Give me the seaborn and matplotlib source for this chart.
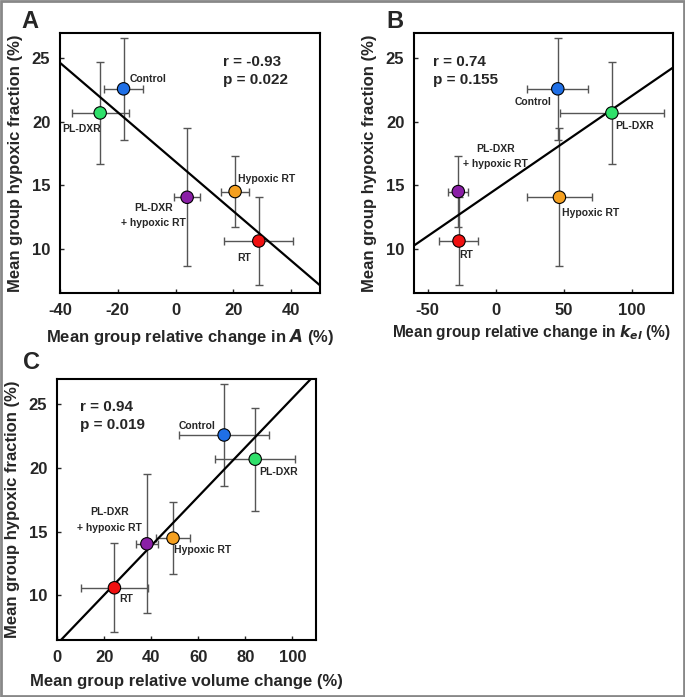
import matplotlib
matplotlib.use("Agg")
import matplotlib.pyplot as plt
import seaborn as sns
import numpy as np
import pandas as pd

sns.set_theme(style="white")
plt.rcParams["font.family"] = ["Liberation Sans", "DejaVu Sans"]
plt.rcParams["font.weight"] = "bold"
plt.rcParams["axes.unicode_minus"] = False

groups = ["Control", "PL-DXR", "PL-DXR\n+ hypoxic RT", "Hypoxic RT", "RT"]
colors = ["#1f6fe6", "#2fe06a", "#8a1fa6", "#f5a020", "#f01010"]

# mean group hypoxic fraction (%) as plotted in each panel
a_y = [22.6, 20.7, 14.05, 14.5, 10.6]
a_yerr = [4.0, 4.05, 5.45, 2.8, 3.5]
b_y = [22.6, 20.7, 14.5, 14.05, 10.6]
b_yerr = [4.0, 4.05, 2.8, 5.45, 3.5]
c_y = [22.6, 20.7, 14.05, 14.5, 10.6]
c_yerr = [4.0, 4.05, 5.45, 2.8, 3.5]

# panel A: relative change in A (%)
a_x = [-18.0, -26.1, 4.0, 20.6, 28.8]
a_xerr = [6.8, 9.9, 4.6, 4.8, 12.0]
# panel B: relative change in kel (%)
b_x = [45.5, 85.2, -27.5, 46.7, -27.0]
b_xerr = [22.5, 38.0, 7.2, 24.0, 14.3]
# panel C: relative volume change (%)
c_x = [71.0, 84.2, 38.2, 49.3, 24.4]
c_xerr = [19.0, 17.0, 4.7, 7.2, 14.4]

stats = {"A": ("r = -0.93", "p = 0.022"), "B": ("r = 0.74", "p = 0.155"),
         "C": ("r = 0.94", "p = 0.019")}

# label positions (data coords)
a_lab = [(-15.9, 23.4, "left"), (-32.7, 19.4, "center"), (-7.5, 12.6, "center"),
         (31.5, 15.5, "center"), (23.8, 9.3, "center")]
b_lab = [(27.7, 21.55, "center"), (102, 19.65, "center"), (-0.5, 17.25, "center"),
         (69.3, 12.8, "center"), (-21.4, 9.5, "center")]
c_lab = [(59.3, 23.3, "center"), (94.1, 19.7, "center"), (22.3, 15.9, "center"),
         (62.0, 13.55, "center"), (29.3, 9.75, "center")]


def panel(ax, x, xerr, y, yerr, lab, xlim, xticks, xlabel, letter, stat_pos,
          xlab_size=12):
    df = pd.DataFrame({"x": x, "y": y, "group": groups})
    ax.errorbar(x, y, xerr=xerr, yerr=yerr, fmt="none", ecolor="#555555",
                elinewidth=1.0, capsize=3, capthick=1.0, zorder=2)
    # regression line through the group means
    k, b = np.polyfit(x, y, 1)
    xs = np.array(xlim)
    sns.lineplot(x=xs, y=k * xs + b, ax=ax, color="black", lw=1.6, zorder=3)
    sns.scatterplot(data=df, x="x", y="y", hue="group", palette=colors, s=80,
                    edgecolor="black", linewidth=0.8, legend=False, ax=ax, zorder=4)
    for (tx, ty, ha), g in zip(lab, groups):
        ax.text(tx, ty, g, ha=ha, va="center", fontsize=7.5, fontweight="bold",
                linespacing=1.7, zorder=5)
    ax.set_xlim(xlim)
    ax.set_ylim(6.5, 27)
    ax.set_xticks(xticks, labels=[str(t) for t in xticks], fontsize=12, fontweight="bold")
    ax.set_yticks([10, 15, 20, 25], labels=["10", "15", "20", "25"], fontsize=12,
                  fontweight="bold")
    ax.tick_params(direction="in", length=3, width=1, pad=7, bottom=True, left=True)
    for s in ax.spines.values():
        s.set_color("black")
        s.set_linewidth(1.5)
    ax.set_xlabel(xlabel, fontsize=xlab_size, fontweight="bold", labelpad=7)
    ax.set_ylabel("Mean group hypoxic fraction (%)", fontsize=12,
                  fontweight="bold", labelpad=6)
    ax.text(stat_pos[0], stat_pos[1], "\n".join(stats[letter]), transform=ax.transAxes,
            ha="left", va="top", fontsize=11, fontweight="bold", linespacing=1.35)


fig = plt.figure(figsize=(6.85, 6.97), dpi=100)
axA = fig.add_axes([0.0876, 0.5796, 0.3796, 0.373])
axB = fig.add_axes([0.6044, 0.5796, 0.378, 0.373])
axC = fig.add_axes([0.0832, 0.0818, 0.378, 0.3745])

panel(axA, a_x, a_xerr, a_y, a_yerr, a_lab, (-40, 50), [-40, -20, 0, 20, 40],
      "Mean group relative change in $\\mathbfit{A}$ (%)", "A", (0.627, 0.915))
panel(axB, b_x, b_xerr, b_y, b_yerr, b_lab, (-60, 130), [-50, 0, 50, 100],
      "Mean group relative change in $\\mathbfit{k_{el}}$ (%)", "B", (0.074, 0.915),
      xlab_size=11.2)
axB.xaxis.set_label_coords(0.455, -0.115)
panel(axC, c_x, c_xerr, c_y, c_yerr, c_lab, (0, 110), [0, 20, 40, 60, 80, 100],
      "Mean group relative volume change (%)", "C", (0.09, 0.92))

fig.text(30 / 685, 1 - 22 / 697, "A", ha="center", va="center", fontsize=17, fontweight="bold")
fig.text(395 / 685, 1 - 22 / 697, "B", ha="center", va="center", fontsize=17, fontweight="bold")
fig.text(32 / 685, 1 - 363 / 697, "C", ha="center", va="center", fontsize=17, fontweight="bold")

fig.patches.append(plt.Rectangle((0.001, 0.001), 0.997, 0.997, transform=fig.transFigure,
                                 fill=False, edgecolor="#888888", lw=2))

fig.savefig("out.png", dpi=100)
